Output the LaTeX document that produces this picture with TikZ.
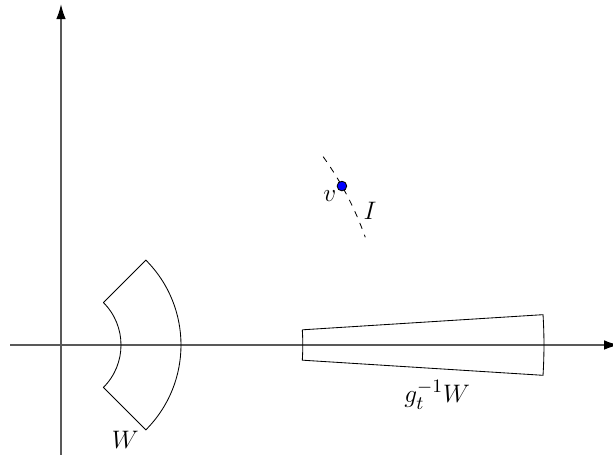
\documentclass[tikz,border=0pt]{standalone}
\usepackage{amsmath}
\usepackage{tikz}
\usepackage{xcolor}
\usetikzlibrary{arrows.meta}
\tikzstyle{axis}   = [draw=black!65, line width=0.6pt, -{Latex[black, length=2.5mm, width=1.6mm]}]
\tikzstyle{region} = [draw=black, thin]
\tikzstyle{orbit}  = [draw=black, dashed]
\tikzstyle{point}  = [circle, draw=black, fill=blue, inner sep=0pt, minimum size=1.6mm]
\tikzstyle{lbl}    = [font=\fontsize{13}{15}\selectfont]

\begin{document}
\begin{tikzpicture}[x=1cm, y=1cm]
  \useasboundingbox (-1.0167,-1.8333) rectangle (9.2,5.75);
  % axes
  \draw [axis] (-0.85,0) -- (9.3,0);
  \draw [axis] (0,-1.8333) -- (0,5.68);

  % the set W
  \draw [region] (45:1) -- (45:2) arc (45:-45:2) -- (-45:1) arc (-45:45:1);
  \node (w) [lbl] at (1.07,-1.58) {$W$};

  % its image under g_t^{-1}
  \draw [region] (3.6:4.03) -- (3.6:8.05) arc (3.6:-3.6:8.05) -- (-3.6:4.03) arc (-3.6:3.6:4.03);
  \node (gw) [lbl] at (6.27,-0.83) {$g_t^{-1}W$};

  % the arc I through v
  \draw [orbit] (35.7:5.38) arc (35.7:19.5:5.38);
  \node (v) [point] at (29.5:5.38) {};
  \node (vl) [lbl] at (4.48,2.48) {$v$};
  \node (il) [lbl] at (5.15,2.23) {$I$};
\end{tikzpicture}
\end{document}
